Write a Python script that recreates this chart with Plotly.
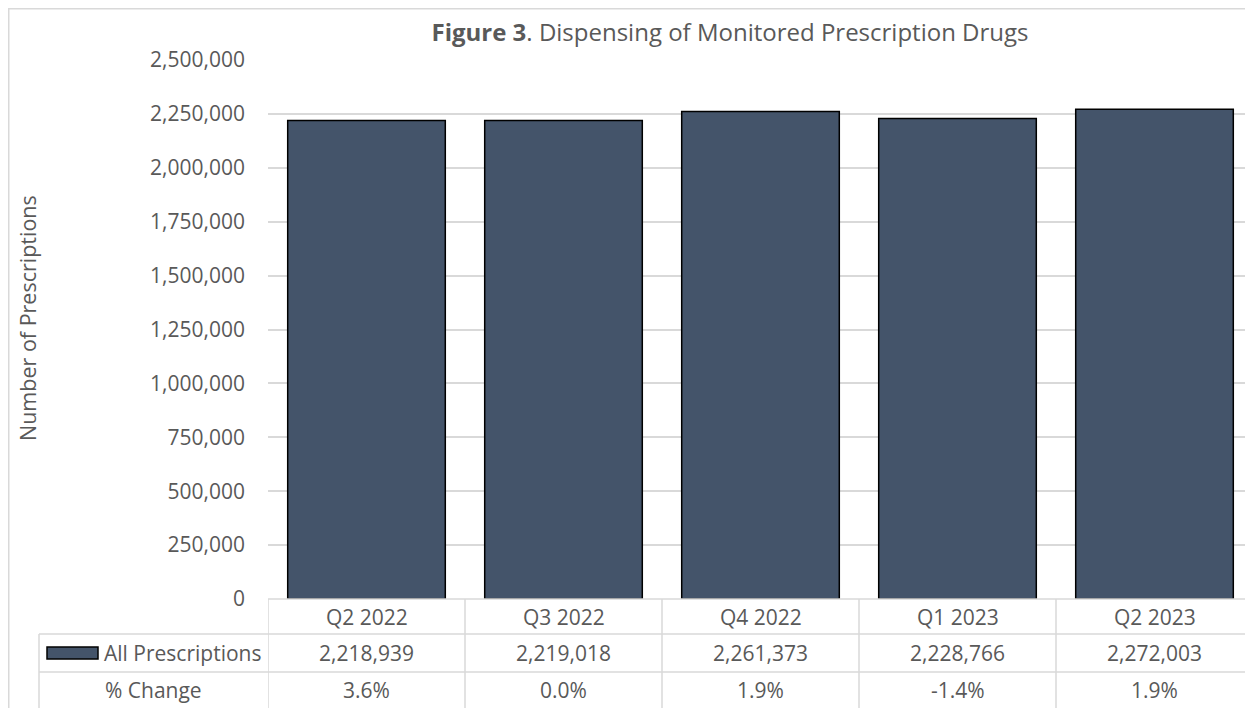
import plotly.graph_objects as go

# data
quarters = ['Q2 2022', 'Q3 2022', 'Q4 2022', 'Q1 2023', 'Q2 2023']
prescriptions = [2218939, 2219018, 2261373, 2228766, 2272003]
pct_change = ['3.6%', '0.0%', '1.9%', '-1.4%', '1.9%']
y_ticks = [0, 250000, 500000, 750000, 1000000, 1250000, 1500000, 1750000, 2000000, 2250000, 2500000]

# the page body has an 8px margin, so the figure is drawn 8px smaller
OFF = 8
W, H = 1253 - OFF, 708 - OFF
L, T, B = 268 - OFF, 60 - OFF, 109
plot_w = W - L
plot_h = H - T - B

BAR = '#44546A'
GRID = '#d9d9d9'
TXT = '#595959'
FONT = 'Open Sans'


def px_x(px):
    # screenshot pixel x -> paper x
    return (px - OFF - L) / plot_w


def px_y(py):
    # screenshot pixel y -> paper y
    return (H - B - (py - OFF)) / plot_h


fig = go.Figure()
fig.add_trace(go.Bar(x=quarters, y=prescriptions, name='All Prescriptions',
                     marker=dict(color=BAR, line=dict(color='black', width=1.5)),
                     showlegend=False))

# table under the chart
row_top = [599, 634, 672]
row_bot = [634, 672, 720]
row_mid = [616.5, 653, 690]
table_left = 39
lines = dict(color=GRID, width=1.5)

shapes = []
shapes.append(dict(type='line', xref='paper', yref='paper', x0=0, x1=1,
                   y0=px_y(row_top[0]), y1=px_y(row_top[0]), line=lines))
for r in (1, 2):
    shapes.append(dict(type='line', xref='paper', yref='paper', x0=px_x(table_left), x1=1,
                       y0=px_y(row_top[r]), y1=px_y(row_top[r]), line=lines))
for i in range(len(quarters) + 1):
    shapes.append(dict(type='line', xref='x', yref='paper', x0=i - 0.5, x1=i - 0.5,
                       y0=px_y(row_top[0]), y1=px_y(row_bot[2]), line=lines))
shapes.append(dict(type='line', xref='paper', yref='paper', x0=px_x(table_left), x1=px_x(table_left),
                   y0=px_y(row_top[1]), y1=px_y(row_bot[2]), line=lines))
# legend key
shapes.append(dict(type='rect', xref='paper', yref='paper', x0=px_x(47), x1=px_x(98),
                   y0=px_y(647), y1=px_y(659), fillcolor=BAR, line=dict(color='black', width=1.5)))
# chart border (as close to the page corner as the body margin allows)
shapes.append(dict(type='rect', xref='paper', yref='paper', x0=px_x(OFF + 0.75), x1=px_x(1270),
                   y0=px_y(OFF + 0.75), y1=px_y(730), line=dict(color=GRID, width=1.5), layer='below'))

annotations = []
fs = 21
cell = dict(showarrow=False, xanchor='center', yanchor='middle', font=dict(size=fs, color=TXT))
for i, q in enumerate(quarters):
    annotations.append(dict(x=q, xref='x', y=px_y(row_mid[0]), yref='paper', text=q, **cell))
    annotations.append(dict(x=q, xref='x', y=px_y(row_mid[1]), yref='paper',
                            text=f'{prescriptions[i]:,}', **cell))
    annotations.append(dict(x=q, xref='x', y=px_y(row_mid[2]), yref='paper', text=pct_change[i], **cell))
annotations.append(dict(x=px_x(102), xref='paper', y=px_y(row_mid[1]), yref='paper', xanchor='left',
                        yanchor='middle', text='All Prescriptions', showarrow=False,
                        font=dict(size=fs, color=TXT)))
annotations.append(dict(x=px_x((table_left + 268) / 2), xref='paper', y=px_y(row_mid[2]), yref='paper',
                        text='% Change', **cell))
# y axis title
annotations.append(dict(x=px_x(27), xref='paper', y=px_y(318), yref='paper', textangle=-90,
                        xanchor='center', yanchor='middle', text='Number of Prescriptions',
                        showarrow=False, font=dict(size=21.5, color=TXT)))

fig.update_layout(
    width=W, height=H,
    margin=dict(l=L, r=0, t=T, b=B),
    paper_bgcolor='white', plot_bgcolor='white',
    font=dict(family=FONT, color=TXT, size=fs),
    title=dict(text='<b>Figure 3</b>. Dispensing of Monitored Prescription Drugs',
               x=(730 - OFF) / W, xanchor='center', y=1 - (33 - OFF) / H, yanchor='middle',
               font=dict(size=24, color=TXT)),
    bargap=0.2,
    shapes=shapes,
    annotations=annotations,
    xaxis=dict(showticklabels=False, showgrid=False, zeroline=False, range=[-0.5, 4.5]),
    yaxis=dict(range=[0, 2500000], tickvals=y_ticks, tickformat=',d',
               showgrid=True, gridcolor=GRID, gridwidth=1.5, zeroline=False,
               ticks='', ticklabelstandoff=22, tickfont=dict(size=fs, color=TXT)),
)

fig.write_html("out.html")
